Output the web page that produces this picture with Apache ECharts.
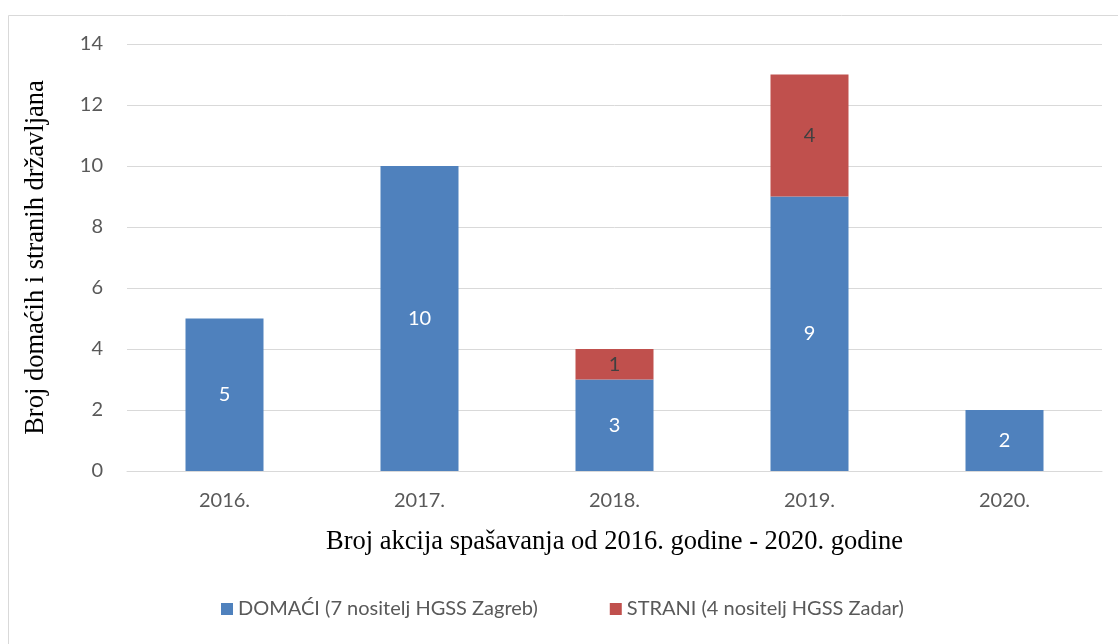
<!DOCTYPE html>
<html>
<head>
<meta charset="utf-8">
<script src="https://cdn.jsdelivr.net/npm/echarts@6/dist/echarts.min.js"></script>
<style>
  html, body { margin: 0; padding: 0; background: #fff; }
  #chart { width: 1118px; height: 644px; }
</style>
</head>
<body>
<div id="chart"></div>
<script>
var years = ['2016.', '2017.', '2018.', '2019.', '2020.'];
var domaci = [5, 10, 3, 9, 2];
var strani = ['-', '-', 1, 4, '-'];
var yTicks = [0, 2, 4, 6, 8, 10, 12, 14];

var myChart = echarts.init(document.getElementById('chart'));

var sansFont = 'Lato, "Open Sans", sans-serif';
var serifFont = '"Liberation Serif", "DejaVu Serif", serif';

var option = {
    animation: false,
    backgroundColor: '#fff',
    graphic: [{
        type: 'rect',
        shape: { x: 8.5, y: 15.5, width: 1120, height: 640 },
        style: { fill: 'none', stroke: '#d9d9d9', lineWidth: 1 },
        silent: true
    }],
    legend: {
        bottom: 20,
        left: 216,
        itemWidth: 12,
        itemHeight: 12,
        itemGap: 72,
        icon: 'rect',
        textStyle: { fontFamily: sansFont, fontSize: 20, color: '#595959' },
        data: ['DOMAĆI (7 nositelj HGSS Zagreb)', 'STRANI (4 nositelj HGSS Zadar)']
    },
    grid: {
        left: 127,
        right: 16,
        top: 44,
        bottom: 173
    },
    xAxis: {
        type: 'category',
        data: years,
        axisLine: { lineStyle: { color: '#d9d9d9', width: 1 } },
        axisTick: { show: false },
        axisLabel: { fontFamily: sansFont, fontSize: 20, color: '#595959', margin: 20 },
        name: 'Broj akcija spašavanja od 2016. godine - 2020. godine',
        nameLocation: 'middle',
        nameGap: 58,
        nameTextStyle: { fontFamily: serifFont, fontSize: 26.5, color: '#000' }
    },
    yAxis: {
        type: 'value',
        min: yTicks[0],
        max: yTicks[yTicks.length - 1],
        interval: 2,
        axisLine: { show: false },
        axisTick: { show: false },
        splitLine: { lineStyle: { color: '#d9d9d9', width: 1 } },
        axisLabel: { fontFamily: sansFont, fontSize: 20, color: '#595959', margin: 24 },
        name: 'Broj domaćih i stranih državljana',
        nameLocation: 'middle',
        nameGap: 77,
        nameRotate: 90,
        nameTextStyle: { fontFamily: serifFont, fontSize: 26.5, color: '#000' }
    },
    series: [
        {
            name: 'DOMAĆI (7 nositelj HGSS Zagreb)',
            type: 'bar',
            stack: 'ukupno',
            barWidth: '40%',
            itemStyle: { color: '#4f81bd' },
            label: { show: true, position: 'inside', color: '#fff', fontFamily: sansFont, fontSize: 20 },
            data: domaci
        },
        {
            name: 'STRANI (4 nositelj HGSS Zadar)',
            type: 'bar',
            stack: 'ukupno',
            barWidth: '40%',
            itemStyle: { color: '#c0504d' },
            label: { show: true, position: 'inside', color: '#404040', fontFamily: sansFont, fontSize: 20 },
            data: strani
        }
    ]
};

myChart.setOption(option);
</script>
</body>
</html>
